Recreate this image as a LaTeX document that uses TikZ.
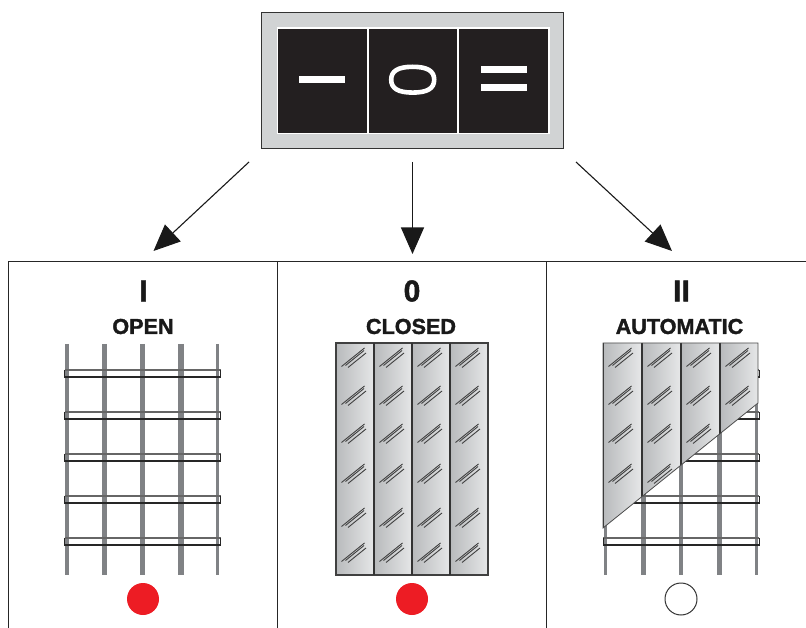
\documentclass[tikz,border=0pt]{standalone}
\usepackage{fontspec}
\setmainfont{Liberation Sans}
\newfontfamily\heavyfont[FakeBold=1.6]{Liberation Sans Bold}
\usetikzlibrary{arrows.meta}
\tikzset{
  px/.style={x=1pt,y=-1pt},
  frame/.style={line width=1pt,draw=black!85},
  flow/.style={line width=1.1pt,draw=black!90,-{Triangle[length=26.5pt,width=23pt]}},
  modetitle/.style={font=\heavyfont\fontsize{30}{30}\selectfont,text=black!90,inner sep=0pt},
  modename/.style={font=\heavyfont\fontsize{21.6}{21.6}\selectfont,text=black!90,inner sep=0pt},
  rail/.style={draw=black!85,line width=1.3pt},
  railtop/.style={draw=black!60,line width=1.3pt},
  thinbar/.style={line width=3.4pt,draw=bargray},
  widebar/.style={line width=5.4pt,draw=bargray},
  midbar/.style={line width=4.4pt,draw=bargray},
  streak/.style={line width=.9pt,draw=black!75},
  lamp/.style={circle,minimum size=32pt,inner sep=0pt},
}
\definecolor{bargray}{HTML}{808285}
\definecolor{boxgray}{HTML}{D1D3D4}
\definecolor{ink}{HTML}{231F20}
\definecolor{lampred}{HTML}{ED1C24}
\definecolor{glassdark}{HTML}{B8BABC}
\definecolor{glassmid}{HTML}{DADBDC}
\definecolor{glasslight}{HTML}{E6E7E8}
\newcommand{\gridat}[1]{% #1 = x offset relative to first panel
  \begin{scope}[shift={(#1,0)}]
    \draw[thinbar] (67,344) -- (67,575);
    \draw[widebar] (104.5,344) -- (104.5,575);
    \draw[midbar] (142.5,344) -- (142.5,575);
    \draw[widebar] (181,344) -- (181,575);
    \draw[thinbar] (217.5,344) -- (217.5,575);
    \foreach \yy in {373.5,415.5,457.5,499.5,541.5}{
      \draw[railtop] (64.5,\yy-3.5) -- (220.5,\yy-3.5);
      \draw[rail] (220.5,\yy-3.5) -- (220.5,\yy+3.5) -- (64.5,\yy+3.5) -- (64.5,\yy-3.5);
    }
  \end{scope}}
\newcommand{\streaks}[2]{% #1 = panel left, #2 = row top
  \draw[streak] (#1+5.5,#2+18.5) -- (#1+28.5,#2);
  \draw[streak] (#1+9.5,#2+17.5) -- (#1+28,#2+2.5);
  \draw[streak] (#1+12,#2+19.5) -- (#1+30,#2+5);}
\newcommand{\glasspanel}[2]{% #1 left, #2 bottom
  \shade[left color=glassdark,middle color=glassmid,right color=glasslight] (#1,343) rectangle (#1+38.5,#2);}
\begin{document}
\begin{tikzpicture}[px]
\useasboundingbox (0,0) rectangle (806,628);
% selector
\node[draw=black!80,line width=1pt,fill=boxgray,minimum width=302.5pt,minimum height=136pt,inner sep=0pt] (selector) at (412.7,81) {};
\fill[white] (276.5,27.5) rectangle (549.5,134.5);
\fill[ink] (278,29) rectangle (366.5,133);
\fill[ink] (368.5,29) rectangle (457,133);
\fill[ink] (459,29) rectangle (548,133);
\fill[white] (299,76) rectangle (345,82.7);
\draw[white,line width=4.6pt] (391.2,79.7) .. controls (391.2,71) and (398,66.8) .. (412.7,66.8)
  .. controls (427.4,66.8) and (434.2,71) .. (434.2,79.7)
  .. controls (434.2,88.4) and (427.4,92.6) .. (412.7,92.6)
  .. controls (398,92.6) and (391.2,88.4) .. (391.2,79.7) -- cycle;
\fill[white] (481,66) rectangle (527,72.7);
\fill[white] (481,84) rectangle (527,90.7);
% arrows
\coordinate (a1s) at (249,162);
\coordinate (a1e) at (153.5,251);
\coordinate (a2s) at (412.5,162);
\coordinate (a2e) at (412.5,254);
\coordinate (a3s) at (576,162);
\coordinate (a3e) at (672,251);
\draw[flow] (a1s) -- (a1e);
\draw[flow] (a2s) -- (a2e);
\draw[flow] (a3s) -- (a3e);
% panels
\draw[frame] (8,628) -- (8,261.5) -- (806,261.5);
\draw[frame] (277,261.5) -- (277,628);
\draw[frame] (546,261.5) -- (546,628);
% titles
\node[modetitle] (t1) at (143.5,291) {I};
\node[modetitle] (t2) at (412,291) {0};
\node[modetitle] (t3) at (681.5,291) {II};
\node[modename] (n1) at (143,326.5) {OPEN};
\node[modename] (n2) at (411,326.5) {CLOSED};
\node[modename] (n3) at (679.5,326.5) {AUTOMATIC};
% open
\gridat{0}
% closed
\foreach \px in {336,374,412,450}{
  \glasspanel{\px}{575}
  \foreach \ry in {348,386,424,464,508,543}{\streaks{\px}{\ry}}
}
\draw[black!75,line width=1.4pt] (336,343) rectangle (488,575);
\foreach \px in {374,412,450}{\draw[black!80,line width=1.8pt] (\px,343) -- (\px,575);}
% automatic
\gridat{538.7}
\begin{scope}
  \clip (603,343) -- (758,343) -- (758,403) -- (603,528) -- cycle;
  \foreach \px in {603,642,681,720}{
    \glasspanel{\px}{575}
    \foreach \ry in {348,386,424,464}{\streaks{\px}{\ry}}
    \draw[black!80,line width=1.8pt] (\px,343) -- (\px,575);
  }
\end{scope}
\draw[black!70,line width=.8pt] (603,528) -- (603,343) -- (758,343) -- (758,403) -- cycle;
% lamps
\node[lamp,fill=lampred] (l1) at (143,599) {};
\node[lamp,fill=lampred] (l2) at (412,599) {};
\node[lamp,draw=black!80,line width=1pt,fill=white] (l3) at (681,599) {};
\end{tikzpicture}
\end{document}
